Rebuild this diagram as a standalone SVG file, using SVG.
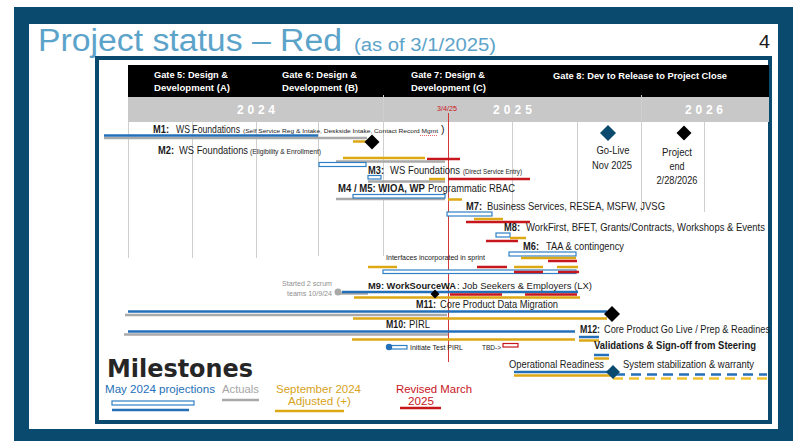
<svg xmlns="http://www.w3.org/2000/svg" width="793" height="441" viewBox="0 0 793 441">
<style>
text{font-family:"Liberation Sans",Arial,sans-serif;fill:#1a1a1a}
.b{font-weight:bold}
.m{font-size:10.5px}
.s{font-size:6.8px}
.xs{font-size:7.5px}
.gt{font-size:9px;font-weight:bold;fill:#fff}
.yr{font-size:12px;font-weight:bold;fill:#fff}
.bl{stroke:#2470b8;stroke-width:2.5;fill:none}
.gy{stroke:#a9a9a9;stroke-width:2.5;fill:none}
.gd{stroke:#dca814;stroke-width:2.5;fill:none}
.rd{stroke:#c8161d;stroke-width:2.5;fill:none}
.bx{fill:#fff;stroke:#2f80c6;stroke-width:1.2}
.grid{stroke:#cfcfcf;stroke-width:1}
</style>
<rect x="0" y="0" width="793" height="441" fill="#fff"/>
<rect x="14" y="7" width="779" height="434" fill="#0b4a6f"/>
<rect x="29" y="24" width="749" height="405" fill="#fff"/>
<g id="title">
<text x="38" y="51" font-size="31" textLength="304" lengthAdjust="spacingAndGlyphs" style="fill:#5ca3ca">Project status – Red</text>
<text x="354" y="51" font-size="18" textLength="142" lengthAdjust="spacingAndGlyphs" style="fill:#5ca3ca">(as of 3/1/2025)</text>
<text x="759" y="48" font-size="18" textLength="11" lengthAdjust="spacingAndGlyphs">4</text>
</g>
<rect x="97" y="58" width="673" height="364" fill="#fff" stroke="#0b4a6f" stroke-width="4"/>
<g id="gates">
<rect x="128" y="65" width="641" height="32" fill="#000"/>
<text class="gt" x="154" y="78" textLength="74" lengthAdjust="spacingAndGlyphs">Gate 5: Design &amp;</text>
<text class="gt" x="154" y="91" textLength="76" lengthAdjust="spacingAndGlyphs">Development (A)</text>
<text class="gt" x="282" y="78" textLength="75" lengthAdjust="spacingAndGlyphs">Gate 6: Design &amp;</text>
<text class="gt" x="282" y="91" textLength="76" lengthAdjust="spacingAndGlyphs">Development (B)</text>
<text class="gt" x="411" y="78" textLength="74" lengthAdjust="spacingAndGlyphs">Gate 7: Design &amp;</text>
<text class="gt" x="411" y="91" textLength="75" lengthAdjust="spacingAndGlyphs">Development (C)</text>
<text class="gt" x="553" y="79" textLength="174" lengthAdjust="spacingAndGlyphs">Gate 8: Dev to Release to Project Close</text>
</g>
<g id="years">
<rect x="128" y="97" width="641" height="25" fill="#c8c8c8"/>
<text class="yr" x="237" y="114" textLength="38" lengthAdjust="spacing">2024</text>
<text class="yr" x="493" y="114" textLength="39" lengthAdjust="spacing">2025</text>
<text class="yr" x="685" y="114" textLength="38" lengthAdjust="spacing">2026</text>
</g>
<g id="grid">
<line class="grid" x1="128.5" y1="122" x2="128.5" y2="258"/>
<line class="grid" x1="192.5" y1="122" x2="192.5" y2="258"/>
<line class="grid" x1="256.5" y1="122" x2="256.5" y2="258"/>
<line class="grid" x1="318.5" y1="122" x2="318.5" y2="256"/>
<line class="grid" x1="383.5" y1="95" x2="383.5" y2="256"/>
<line class="grid" x1="512.5" y1="122" x2="512.5" y2="212"/>
<line class="grid" x1="577.5" y1="122" x2="577.5" y2="212"/>
<line class="grid" x1="641.5" y1="95" x2="641.5" y2="212"/>
<line class="grid" x1="704.5" y1="122" x2="704.5" y2="212"/>
</g>
<g id="connectors">
<line x1="448.5" y1="113" x2="448.5" y2="362" stroke="#d23a3a" stroke-width="1"/>
<text x="437" y="111" font-size="7.5" textLength="20" lengthAdjust="spacingAndGlyphs" style="fill:#c8161d">3/4/25</text>
</g>
<g id="m1">
<line class="gy" x1="104" y1="138" x2="367" y2="138"/>
<line class="bl" x1="104" y1="135.5" x2="318" y2="135.5"/>
<line class="gd" x1="353" y1="141.5" x2="367" y2="141.5"/>
<polygon points="372,134.5 379.5,142 372,149.5 364.5,142" fill="#000"/>
<text class="m b" x="153" y="133" textLength="16" lengthAdjust="spacingAndGlyphs">M1:</text>
<text class="m" x="176" y="133" textLength="64" lengthAdjust="spacingAndGlyphs">WS Foundations</text>
<text x="243" y="133" font-size="6" textLength="195" lengthAdjust="spacingAndGlyphs">(Self Service Reg &amp; Intake, Deskside Intake, Contact Record Mgmt</text>
<text class="m" x="441" y="133" textLength="3.5" lengthAdjust="spacingAndGlyphs">)</text>
<line x1="420" y1="135.5" x2="438" y2="135.5" stroke="#e04040" stroke-width="0.8" stroke-dasharray="1 1"/>
</g>
<g id="m2">
<line class="gd" x1="343" y1="158" x2="425" y2="158"/>
<line class="rd" x1="427" y1="159" x2="460" y2="159"/>
<line class="gy" x1="336" y1="161.5" x2="445" y2="161.5"/>
<rect class="bx" x="319" y="162.5" width="47" height="4"/>
<text class="m b" x="158" y="154" textLength="16" lengthAdjust="spacingAndGlyphs">M2:</text>
<text class="m" x="179" y="154" textLength="69" lengthAdjust="spacingAndGlyphs">WS Foundations</text>
<text class="s" x="250" y="154" textLength="71" lengthAdjust="spacingAndGlyphs">(Eligibility &amp; Enrollment)</text>
</g>
<g id="m3">
<line class="gy" x1="368" y1="181.5" x2="445" y2="181.5"/>
<line class="gd" x1="429" y1="179" x2="445" y2="179"/>
<line class="rd" x1="448" y1="179" x2="530" y2="179"/>
<rect class="bx" x="368" y="175.5" width="13" height="3.5"/>
<text class="m b" x="368" y="174" textLength="16" lengthAdjust="spacingAndGlyphs">M3:</text>
<text class="m" x="390" y="174" textLength="70" lengthAdjust="spacingAndGlyphs">WS Foundations</text>
<text class="s" x="463" y="174" textLength="59" lengthAdjust="spacingAndGlyphs">(Direct Service Entry)</text>
</g>
<g id="m4m5">
<line class="gy" x1="336" y1="199" x2="445" y2="199"/>
<rect class="bx" x="353" y="194.5" width="92" height="3.5"/>
<line class="gd" x1="448" y1="199.5" x2="462" y2="199.5"/>
<text class="m b" x="338" y="192" textLength="87" lengthAdjust="spacingAndGlyphs">M4 / M5: WIOA, WP</text>
<text class="m" x="428" y="192" textLength="87" lengthAdjust="spacingAndGlyphs">Programmatic RBAC</text>
</g>
<g id="m7">
<rect class="bx" x="447" y="212" width="45" height="4"/>
<line class="gd" x1="474" y1="219" x2="503" y2="219"/>
<line class="rd" x1="466" y1="222" x2="530" y2="222"/>
<text class="m b" x="466" y="210" textLength="16" lengthAdjust="spacingAndGlyphs">M7:</text>
<text class="m" x="487" y="210" textLength="178" lengthAdjust="spacingAndGlyphs">Business Services, RESEA, MSFW, JVSG</text>
</g>
<g id="m8">
<rect class="bx" x="496" y="233" width="14" height="4"/>
<line class="gd" x1="510" y1="238" x2="526" y2="238"/>
<line class="rd" x1="486" y1="241" x2="518" y2="241"/>
<text class="m b" x="504" y="231" textLength="16" lengthAdjust="spacingAndGlyphs">M8:</text>
<text class="m" x="526" y="231" textLength="239" lengthAdjust="spacingAndGlyphs">WorkFirst, BFET, Grants/Contracts, Workshops &amp; Events</text>
</g>
<g id="m6">
<rect class="bx" x="509" y="252" width="67" height="4"/>
<line class="gd" x1="521" y1="258" x2="576" y2="258"/>
<line class="rd" x1="548" y1="261" x2="577" y2="261"/>
<text class="m b" x="523" y="250" textLength="16" lengthAdjust="spacingAndGlyphs">M6:</text>
<text class="m" x="546" y="250" textLength="78" lengthAdjust="spacingAndGlyphs">TAA &amp; contingency</text>
</g>
<g id="interfaces">
<text class="xs" x="386" y="260" textLength="99" lengthAdjust="spacingAndGlyphs">Interfaces incorporated in sprint</text>
<line class="gd" x1="368" y1="267" x2="397" y2="267"/>
<line class="rd" x1="477" y1="267" x2="507" y2="267"/>
<line class="gd" x1="514" y1="267" x2="543" y2="267"/>
<line class="gd" x1="557" y1="267" x2="578" y2="267"/>
<rect class="bx" x="383" y="270" width="193" height="3.5"/>
<line class="rd" x1="514" y1="272" x2="543" y2="272"/>
<line class="rd" x1="558" y1="272" x2="579" y2="272"/>
</g>
<g id="m9">
<text x="332" y="286" font-size="8" text-anchor="end" textLength="50" lengthAdjust="spacingAndGlyphs" style="fill:#909090">Started 2 scrum</text>
<text x="332" y="296" font-size="8" text-anchor="end" textLength="45" lengthAdjust="spacingAndGlyphs" style="fill:#909090">teams 10/9/24</text>
<line class="gy" x1="338" y1="293.5" x2="368" y2="293.5"/>
<circle cx="338" cy="292" r="3.5" fill="#a9a9a9"/>
<line class="bl" x1="342" y1="292" x2="578" y2="292"/>
<line class="rd" x1="450" y1="294.5" x2="502" y2="294.5"/>
<line class="rd" x1="525" y1="294.5" x2="577" y2="294.5"/>
<line class="gd" x1="354" y1="297.5" x2="580" y2="297.5"/>
<polygon points="435,289.5 439.5,294 435,298.5 430.5,294" fill="#000"/>
<text x="368" y="289" font-size="9.3" font-weight="bold" textLength="88" lengthAdjust="spacingAndGlyphs">M9: WorkSourceWA</text>
<text x="457" y="289" font-size="9.3" textLength="135" lengthAdjust="spacingAndGlyphs">: Job Seekers &amp; Employers (LX)</text>
</g>
<g id="m11">
<line class="gy" x1="125" y1="315" x2="447" y2="315"/>
<line class="bl" x1="128" y1="311.5" x2="607" y2="311.5"/>
<line class="gd" x1="353" y1="318.5" x2="607" y2="318.5"/>
<polygon points="612,306 620,314 612,322 604,314" fill="#000"/>
<text class="m b" x="416" y="308" textLength="20" lengthAdjust="spacingAndGlyphs">M11:</text>
<text class="m" x="440" y="308" textLength="118" lengthAdjust="spacingAndGlyphs">Core Product Data Migration</text>
</g>
<g id="m10">
<line class="gy" x1="124" y1="334.5" x2="448" y2="334.5"/>
<line class="bl" x1="128" y1="331.5" x2="575" y2="331.5"/>
<line class="gd" x1="352" y1="339.5" x2="575" y2="339.5"/>
<text class="m b" x="386" y="328" textLength="20" lengthAdjust="spacingAndGlyphs">M10:</text>
<text class="m" x="409" y="328" textLength="21" lengthAdjust="spacingAndGlyphs">PIRL</text>
</g>
<g id="m12">
<line class="bl" x1="579" y1="337" x2="599" y2="337"/>
<line class="gd" x1="579" y1="340.5" x2="599" y2="340.5"/>
<text class="m b" x="580" y="333" textLength="20" lengthAdjust="spacingAndGlyphs">M12:</text>
<text class="m" x="604" y="333" textLength="166" lengthAdjust="spacingAndGlyphs">Core Product Go Live / Prep &amp; Readines</text>
</g>
<g id="pirl-test">
<rect class="bx" x="389" y="345.5" width="18" height="3.5"/>
<circle cx="389" cy="347" r="3.2" fill="#2470b8"/>
<text class="xs" x="410" y="350" textLength="53" lengthAdjust="spacingAndGlyphs">Initiate Test PIRL</text>
</g>
<g id="tbd">
<text class="xs" x="482" y="350" textLength="19" lengthAdjust="spacingAndGlyphs">TBD-&gt;</text>
<rect x="503" y="343.5" width="15" height="3.5" fill="#fff" stroke="#c8161d" stroke-width="1.2"/>
</g>
<g id="validations">
<text class="b" x="594" y="349" font-size="10.5" textLength="162" lengthAdjust="spacingAndGlyphs">Validations &amp; Sign-off from Steering</text>
<line class="bl" x1="594" y1="355" x2="609" y2="355"/>
<line class="gd" x1="594" y1="358.5" x2="609" y2="358.5"/>
</g>
<g id="operational">
<text class="m" x="509" y="368" textLength="95" lengthAdjust="spacingAndGlyphs">Operational Readiness</text>
<line class="bl" x1="514" y1="372" x2="608" y2="372"/>
<line class="gd" x1="514" y1="375.5" x2="612" y2="375.5"/>
<line x1="615" y1="374.5" x2="767" y2="374.5" stroke="#2470b8" stroke-width="2.5" stroke-dasharray="10 6"/>
<line x1="613" y1="378.5" x2="770" y2="378.5" stroke="#f2c233" stroke-width="2.5" stroke-dasharray="10 6"/>
<polygon points="613,365 620,372 613,379 606,372" fill="#0b4a6f"/>
<text class="m" x="623" y="368" textLength="131" lengthAdjust="spacingAndGlyphs">System stabilization &amp; warranty</text>
</g>
<g id="golive">
<polygon points="608,125 616,133 608,141 600,133" fill="#0b4a6f"/>
<text class="m" x="613" y="154" text-anchor="middle" textLength="33" lengthAdjust="spacingAndGlyphs">Go-Live</text>
<text class="m" x="612" y="169" text-anchor="middle" textLength="40" lengthAdjust="spacingAndGlyphs">Nov 2025</text>
</g>
<g id="projectend">
<polygon points="684,125.5 691.5,133 684,140.5 676.5,133" fill="#000"/>
<text class="m" x="677" y="156" text-anchor="middle" textLength="30" lengthAdjust="spacingAndGlyphs">Project</text>
<text class="m" x="677" y="170" text-anchor="middle" textLength="15" lengthAdjust="spacingAndGlyphs">end</text>
<text class="m" x="677" y="184" text-anchor="middle" textLength="41" lengthAdjust="spacingAndGlyphs">2/28/2026</text>
</g>
<g id="legend">
<text x="107" y="377" font-size="25" font-weight="bold" textLength="146" lengthAdjust="spacingAndGlyphs" style="fill:#262626;font-family:'DejaVu Sans','Liberation Sans',sans-serif">Milestones</text>
<text x="105" y="393" font-size="11" textLength="110" lengthAdjust="spacingAndGlyphs" style="fill:#2470b8">May 2024 projections</text>
<rect class="bx" x="112" y="401" width="82" height="4"/>
<line class="bl" x1="112" y1="410" x2="189" y2="410"/>
<text x="222" y="393" font-size="11" textLength="37" lengthAdjust="spacingAndGlyphs" style="fill:#a6a6a6">Actuals</text>
<line class="gy" x1="222" y1="400" x2="259" y2="400"/>
<text x="276" y="393" font-size="11" textLength="85" lengthAdjust="spacingAndGlyphs" style="fill:#d6a31b">September 2024</text>
<text x="288" y="405" font-size="11" textLength="63" lengthAdjust="spacingAndGlyphs" style="fill:#d6a31b">Adjusted (+)</text>
<line class="gd" x1="275" y1="411" x2="344" y2="411"/>
<text x="396" y="393" font-size="11" textLength="76" lengthAdjust="spacingAndGlyphs" style="fill:#c8161d">Revised March</text>
<text x="408" y="405" font-size="11" textLength="26" lengthAdjust="spacingAndGlyphs" style="fill:#c8161d">2025</text>
<line class="rd" x1="400" y1="408" x2="441" y2="408"/>
</g>
</svg>
